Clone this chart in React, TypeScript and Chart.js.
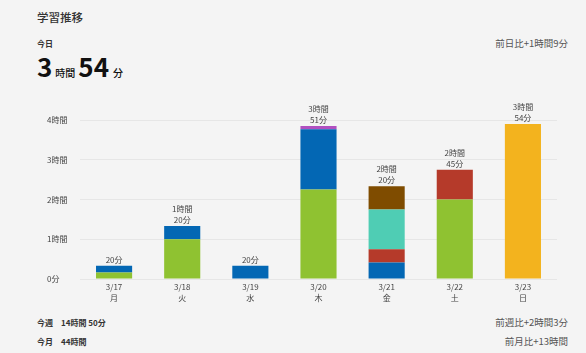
import React, { useEffect, useRef } from "react";
import { Chart, registerables } from "chart.js";

Chart.register(...registerables);

const dates = ["3/17", "3/18", "3/19", "3/20", "3/21", "3/22", "3/23"];
const weekdays = ["月", "火", "水", "木", "金", "土", "日"];
const yTickLabels = ["0分", "1時間", "2時間", "3時間", "4時間"];

// minutes per subject
const greenMin = [10, 60, 0, 135, 0, 120, 0];
const blueMin = [10, 20, 20, 91, 25, 0, 0];
const redMin = [0, 0, 0, 0, 20, 45, 0];
const tealMin = [0, 0, 0, 0, 60, 0, 0];
const brownMin = [0, 0, 0, 0, 35, 0, 0];
const purpleMin = [0, 0, 0, 5, 0, 0, 0];
const yellowMin = [0, 0, 0, 0, 0, 0, 234];

const FONT = "'Noto Sans CJK JP', 'Noto Sans', sans-serif";

function fmtLines(m: number): string[] {
  const h = Math.floor(m / 60);
  const mm = m % 60;
  if (h > 0) return [h + "時間", mm + "分"];
  return [mm + "分"];
}

const totalsPlugin = {
  id: "totals",
  afterDatasetsDraw(chart: any) {
    const ctx = chart.ctx;
    const yScale = chart.scales.y;
    const xScale = chart.scales.x;
    const n = chart.data.labels.length;
    ctx.save();
    ctx.font = "8px " + FONT;
    ctx.fillStyle = "#444";
    ctx.textAlign = "center";
    ctx.textBaseline = "bottom";
    for (let i = 0; i < n; i++) {
      let total = 0;
      chart.data.datasets.forEach((ds: any) => (total += ds.data[i] || 0));
      const x = xScale.getPixelForValue(i);
      const top = yScale.getPixelForValue(total);
      const lines = fmtLines(total);
      let y = top - 2;
      for (let k = lines.length - 1; k >= 0; k--) {
        ctx.fillText(lines[k], x, y);
        y -= 11;
      }
    }
    ctx.restore();
  },
};

function ChartView() {
  const ref = useRef<HTMLCanvasElement>(null);
  useEffect(() => {
    if (!ref.current) return;
    const mk = (label: string, data: number[], color: string) => ({
      label,
      data,
      backgroundColor: color,
      borderWidth: 0,
      stack: "s",
      barPercentage: 0.53,
      categoryPercentage: 1,
    });
    const chart = new Chart(ref.current, {
      type: "bar",
      data: {
        labels: dates.map((d, i) => [d, weekdays[i]]),
        datasets: [
          mk("green", greenMin, "#8fc231"),
          mk("blue", blueMin, "#0367b4"),
          mk("red", redMin, "#b53a2a"),
          mk("teal", tealMin, "#4fcdb4"),
          mk("brown", brownMin, "#7f4c00"),
          mk("purple", purpleMin, "#b050c0"),
          mk("yellow", yellowMin, "#f3b31e"),
        ],
      },
      options: {
        animation: false,
        responsive: false,
        maintainAspectRatio: false,
        layout: { padding: { left: 47, right: 29, top: 20, bottom: 0 } },
        plugins: { legend: { display: false }, tooltip: { enabled: false } },
        scales: {
          x: {
            stacked: true,
            grid: { display: false, drawTicks: false },
            border: { display: false },
            ticks: {
              padding: 2,
              color: "#444",
              font: { size: 8, family: FONT, lineHeight: 1.45 },
              maxRotation: 0,
            },
            afterFit: (s: any) => {
              s.height = 26;
            },
          },
          y: {
            stacked: true,
            min: 0,
            max: 240,
            grid: { color: "#e6e6e6", drawTicks: false },
            border: { display: false },
            ticks: {
              stepSize: 60,
              crossAlign: "far",
              padding: 0,
              color: "#444",
              font: { size: 8, family: FONT },
              callback: (v: any) => yTickLabels[Math.round(Number(v) / 60)],
            },
            afterFit: (s: any) => {
              s.width = 33;
            },
          },
        },
      },
      plugins: [totalsPlugin],
    } as any);
    return () => chart.destroy();
  }, []);
  return (
    <canvas
      ref={ref}
      width={586}
      height={205}
      style={{ position: "absolute", left: 0, top: 100, width: 586, height: 205 }}
    />
  );
}

export default function App() {
  const base: React.CSSProperties = {
    position: "absolute",
    fontFamily: FONT,
    whiteSpace: "nowrap",
    lineHeight: 1,
  };
  return (
    <div
      style={{
        position: "fixed",
        left: 0,
        top: 0,
        width: 586,
        height: 353,
        background: "#f4f4f4",
        overflow: "hidden",
      }}
    >
      <div style={{ ...base, left: 37, top: 12, fontSize: 11.5, fontWeight: 500, color: "#333" }}>学習推移</div>
      <div style={{ ...base, left: 37, top: 40, fontSize: 8, fontWeight: 700, color: "#333" }}>今日</div>
      <div style={{ ...base, left: 37, top: 53, color: "#111", fontWeight: 700 }}>
        <span style={{ fontSize: 26 }}>3</span>
        <span style={{ fontSize: 10, fontWeight: 500, margin: "0 3px 0 3px" }}>時間</span>
        <span style={{ fontSize: 26 }}>54</span>
        <span style={{ fontSize: 10, fontWeight: 500, marginLeft: 4 }}>分</span>
      </div>
      <div style={{ ...base, right: 18, top: 39, fontSize: 9.5, color: "#555" }}>前日比+1時間9分</div>

      <ChartView />

      <div style={{ ...base, left: 37, top: 319, fontSize: 8, fontWeight: 700, color: "#333" }}>
        今週<span style={{ marginLeft: 8 }}>14時間 50分</span>
      </div>
      <div style={{ ...base, left: 37, top: 338, fontSize: 8, fontWeight: 700, color: "#333" }}>
        今月<span style={{ marginLeft: 8 }}>44時間</span>
      </div>
      <div style={{ ...base, right: 18, top: 318, fontSize: 9.5, color: "#555" }}>前週比+2時間3分</div>
      <div style={{ ...base, right: 18, top: 337, fontSize: 9.5, color: "#555" }}>前月比+13時間</div>
    </div>
  );
}
